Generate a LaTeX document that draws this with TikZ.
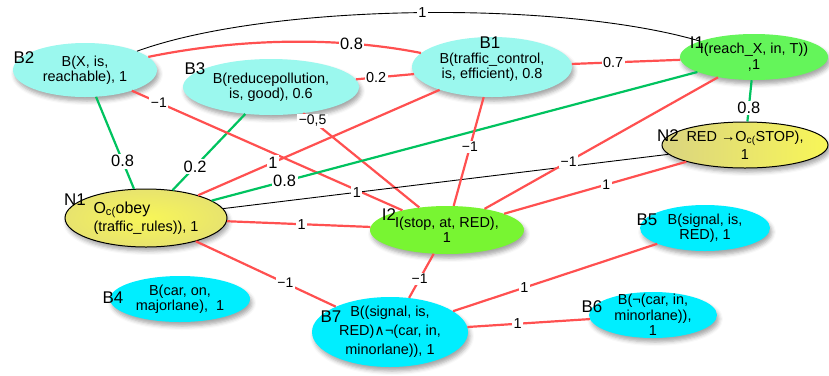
\documentclass[tikz,border=0pt]{standalone}
\usepackage{fontspec}
\setmainfont{Liberation Sans}
\newfontfamily\djvfont{DejaVu Sans}
\usetikzlibrary{shapes.geometric,shadows.blur}

\definecolor{beliefA}{RGB}{155,248,238}
\definecolor{beliefB}{RGB}{0,238,255}
\definecolor{intentA}{RGB}{100,245,90}
\definecolor{intentB}{RGB}{120,245,50}
\definecolor{normdark}{RGB}{218,212,128}
\definecolor{normlight}{RGB}{248,246,88}
\definecolor{negred}{RGB}{255,80,80}
\definecolor{posgreen}{RGB}{0,195,95}

\tikzset{
  ell/.style={ellipse, inner sep=-10bp, align=center,
    font=\fontsize{14.5}{15.5}\selectfont,
    blur shadow={shadow xshift=2bp, shadow yshift=-4bp, shadow blur radius=4bp, shadow opacity=35}},
  normnode/.style={ell, draw=black, line width=1bp, font=\fontsize{14.5}{18.5}\selectfont},
  tag/.style={font=\fontsize{17}{17}\selectfont, inner sep=0pt},
  negedge/.style={negred, line width=2.2bp},
  posedge/.style={posgreen, line width=2.2bp},
  thinedge/.style={black, line width=0.9bp},
  wt/.style={fill=white, text=black, inner sep=1.5bp, font=\fontsize{16.5}{16.5}\selectfont},
  wtm/.style={fill=white, text=black, inner sep=1.5bp, font=\fontsize{14.5}{14.5}\selectfont},
  wts/.style={fill=white, text=black, inner sep=1.5bp, font=\fontsize{14}{14}\selectfont}
}

\begin{document}
\begin{tikzpicture}[x=1bp, y=-1bp]
\useasboundingbox (0,0) rectangle (829,375);

% Draw belief nodes
\node[ell, fill=beliefA, minimum width=144bp, minimum height=54bp,
  label={[tag, xshift=-61bp, yshift=12bp]center:B2}] (b2) at (85,70) {B(X, is,\\reachable), 1};
\node[ell, fill=beliefA, minimum width=176bp, minimum height=56bp,
  label={[tag, xshift=-76bp, yshift=18bp]center:B3}] (b3) at (271,87) {B(reducepollution,\\is, good), 0.6};
\node[ell, fill=beliefA, minimum width=160bp, minimum height=60bp,
  label={[tag, xshift=-2bp, yshift=24bp]center:B1}] (b1) at (492,67) {B(traffic\_control,\\is, efficient), 0.8};
\node[ell, fill=beliefB, minimum width=130bp, minimum height=46bp,
  label={[tag, xshift=-58bp, yshift=8bp]center:B5}] (b5) at (705,228) {B(signal, is,\\RED), 1};
\node[ell, fill=beliefB, minimum width=128bp, minimum height=46bp,
  label={[tag, xshift=-61bp, yshift=8bp]center:B6}] (b6) at (653,315) {B(¬(car, in,\\minorlane)),\\1};
\node[ell, fill=beliefB, minimum width=140bp, minimum height=46bp,
  label={[tag, xshift=-67bp, yshift=1bp]center:B4}] (b4) at (180,299) {B(car, on,\\majorlane),~ 1};
\node[ell, fill=beliefB, minimum width=156bp, minimum height=70bp, font=\fontsize{14.5}{19}\selectfont,
  label={[tag, xshift=-59bp, yshift=15bp]center:B7}] (b7) at (390,332) {B((signal, is,\\RED){\djvfont ∧}¬(car, in,\\minorlane)), 1};

% Draw intention nodes
\node[ell, fill=intentA, minimum width=148bp, minimum height=46bp,
  label={[tag, xshift=-57bp, yshift=14bp]center:I1}] (i1) at (754,57) {I(reach\_X, in, T))\\,1};
\node[ell, fill=intentB, minimum width=154bp, minimum height=48bp,
  label={[tag, xshift=-58bp, yshift=15bp]center:I2}] (i2) at (447,230) {I(stop, at, RED),\\1};

% Draw norm nodes
\node[normnode, inner color=normlight, outer color=normdark!55!normlight, align=left,
  minimum width=162bp, minimum height=58bp,
  label={[tag, xshift=-71bp, yshift=18bp]center:N1}] (n1) at (146,218)
  {{\fontsize{16}{18.5}\selectfont O\textsubscript{c(}obey}\\(traffic\_rules)), 1};
\node[normnode, left color=normdark, right color=normlight,
  minimum width=166bp, minimum height=46bp,
  label={[tag, xshift=-77bp, yshift=9bp]center:N2}] (n2) at (745,145)
  {RED →O\textsubscript{c(}STOP),\\1};

% Draw curved links
\draw[thinedge] (b2) .. controls (270,3) and (560,0) .. (i1) node[wtm, pos=0.51] {1};
\draw[negedge] (b2) .. controls (230,40) and (330,35) .. (b1) node[wt, pos=0.75] {0.8};

% Draw straight links
\draw[negedge] (b3) -- (b1) node[wtm, pos=0.35] {0.2};
\draw[negedge] (b1) -- (i1) node[wtm, pos=0.38] {0.7};
\draw[posedge] (i1) -- (n2) node[wt, pos=0.67] {0.8};
\draw[posedge] (b2) -- (n1) node[wt, pos=0.70] {0.8};
\draw[posedge] (b3) -- (n1) node[wt, pos=0.69] {0.2};
\draw[negedge] (b2) -- (i2) node[wts, pos=0.10] {−1};
\draw[negedge] (b3) -- (i2) node[wts, pos=0.08] {−0,5};
\draw[negedge] (n1) -- (b1) node[wt, pos=0.31] {1};
\draw[posedge] (n1) -- (i1) node[wt, pos=0.15] {0.8};
\draw[thinedge] (n1) -- (n2) node[wtm, pos=0.30] {1};
\draw[negedge] (n1) -- (i2) node[wtm, pos=0.52] {1};
\draw[negedge] (b1) -- (i2) node[wts, pos=0.46] {−1};
\draw[negedge] (i1) -- (i2) node[wts, pos=0.64] {−1};
\draw[negedge] (n2) -- (i2) node[wts, pos=0.44] {1};
\draw[negedge] (n1) -- (b7) node[wts, pos=0.64] {−1};
\draw[negedge] (i2) -- (b7) node[wts, pos=0.57] {−1};
\draw[negedge] (b7) -- (b5) node[wtm, pos=0.35] {1};
\draw[negedge] (b7) -- (b6) node[wtm, pos=0.41] {1};
\end{tikzpicture}
\end{document}
